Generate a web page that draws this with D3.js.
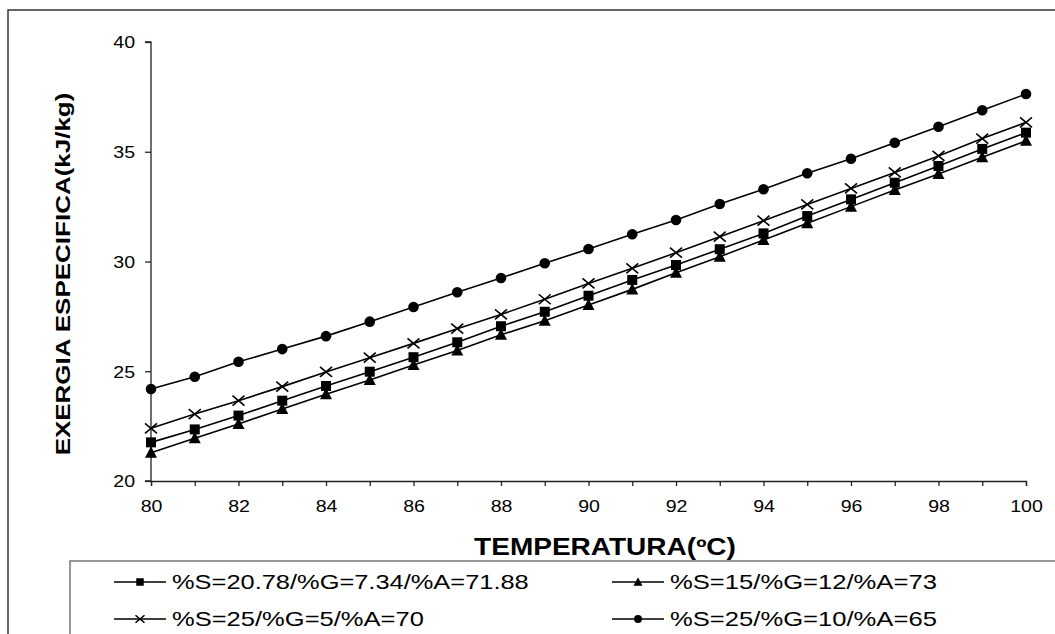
<!DOCTYPE html>
<html><head><meta charset="utf-8">
<script src="https://cdn.jsdelivr.net/npm/d3@7"></script>
<style>body{margin:0;background:#fff}svg{display:block}text{font-family:"Liberation Sans",Arial,sans-serif}</style>
</head><body>
<script>
const temps = [80,81,82,83,84,85,86,87,88,89,90,91,92,93,94,95,96,97,98,99,100];
const serSquare = [21.76,22.35,22.98,23.66,24.33,24.98,25.64,26.32,27.05,27.71,28.44,29.16,29.84,30.56,31.28,32.07,32.83,33.59,34.35,35.13,35.87];
const serTriangle = [21.29,21.95,22.6,23.28,23.95,24.6,25.28,25.94,26.66,27.3,28.02,28.73,29.49,30.22,30.98,31.74,32.5,33.26,33.99,34.75,35.5];
const serCross = [22.4,23.05,23.66,24.3,24.97,25.62,26.27,26.94,27.59,28.28,29.0,29.69,30.4,31.13,31.86,32.6,33.33,34.06,34.81,35.6,36.34];
const serCircle = [24.19,24.75,25.43,26.01,26.6,27.26,27.93,28.6,29.25,29.92,30.57,31.24,31.89,32.62,33.29,34.02,34.68,35.41,36.14,36.89,37.63];
const seriesNames = ["%S=20.78/%G=7.34/%A=71.88","%S=15/%G=12/%A=73","%S=25/%G=5/%A=70","%S=25/%G=10/%A=65"];
const xTicks = [80,82,84,86,88,90,92,94,96,98,100];
const yTicks = [20,25,30,35,40];

const W=1055,H=634;
const svg=d3.select("body").append("svg").attr("width",W).attr("height",H);
svg.append("path").attr("d","M8,640 L8,10 L1060,10").attr("fill","none").attr("stroke","#333").attr("stroke-width",1.5);

const x=d3.scaleLinear().domain([80,100]).range([151,1026]);
const y=d3.scaleLinear().domain([20,40]).range([481,42]);

const gx=svg.append("g").attr("transform","translate(0,481)")
  .call(d3.axisBottom(x).tickValues(d3.range(80,101,1)).tickSize(5).tickFormat(d=>xTicks.includes(d)?d:""));
const gy=svg.append("g").attr("transform","translate(151,0)")
  .call(d3.axisLeft(y).tickValues(yTicks).tickSize(6).tickPadding(10));
[gx,gy].forEach(g=>{
  g.attr("font-size",null).attr("font-family",null);
  g.select(".domain").attr("stroke","#222").attr("stroke-width",1.3);
  g.selectAll(".tick line").attr("stroke","#222").attr("stroke-width",1.3);
  g.selectAll(".tick text").style("font-size","17px").attr("fill","#000");
});
gx.selectAll(".tick text").attr("x",0).attr("y",0).attr("dy","0.35em").attr("transform","translate(0,25) scale(1.15,1)");
gy.selectAll(".tick text").attr("x",0).attr("dy","0.35em").attr("transform","translate(-16,0) scale(1.15,1)");
gy.select(".domain").attr("d","M-6,42H0V481H-6");

const data=[serSquare,serTriangle,serCross,serCircle];
const kinds=["square","triangle","cross","circle"];
const line=d3.line().x((d,i)=>x(temps[i])).y(d=>y(d));

function marker(g,kind,cx,cy,scale){
  scale=scale||1;
  if(kind==="square") g.append("rect").attr("x",cx-5*scale).attr("y",cy-5*scale).attr("width",10*scale).attr("height",10*scale).attr("fill","#000");
  else if(kind==="triangle") g.append("path").attr("d",`M${cx},${cy-6.5*scale}L${cx+6*scale},${cy+5*scale}L${cx-6*scale},${cy+5*scale}Z`).attr("fill","#000");
  else if(kind==="circle") g.append("circle").attr("cx",cx).attr("cy",cy).attr("r",5.3*scale).attr("fill","#000");
  else g.append("path").attr("d",`M${cx-6*scale},${cy-5*scale}L${cx+6*scale},${cy+5*scale}M${cx-6*scale},${cy+5*scale}L${cx+6*scale},${cy-5*scale}`).attr("stroke","#000").attr("stroke-width",1.6);
}

data.forEach((s,k)=>{
  svg.append("path").datum(s).attr("d",line).attr("fill","none").attr("stroke","#000").attr("stroke-width",1.6);
  const g=svg.append("g");
  s.forEach((v,i)=>marker(g,kinds[k],x(temps[i]),y(v)));
});

function fitText(parent,str,size,bold,width,anchor){
  const t=parent.append("text").style("font-size",size+"px").attr("font-weight",bold?"bold":null)
    .attr("text-anchor",anchor).text(str);
  const w=t.node().getComputedTextLength();
  t.attr("transform",`scale(${width/w},1)`);
  return t;
}
const xt=svg.append("g").attr("transform","translate(605,555)");
fitText(xt,"TEMPERATURA(ºC)",23,true,262,"middle");
const yt=svg.append("g").attr("transform","translate(70,274) rotate(-90)");
fitText(yt,"EXERGIA ESPECIFICA(kJ/kg)",21,true,363,"middle");

svg.append("path").attr("d","M70,640 L70,561 L1060,561").attr("fill","none").attr("stroke","#777").attr("stroke-width",1.5);
const legPos=[[114,582],[612,582],[114,619],[612,619]];
const legLen=[357,267,252,267];
seriesNames.forEach((n,k)=>{
  const [lx,ly]=legPos[k];
  const g=svg.append("g");
  g.append("line").attr("x1",lx).attr("x2",lx+52).attr("y1",ly).attr("y2",ly).attr("stroke","#000").attr("stroke-width",1.6);
  marker(g,kinds[k],lx+26,ly,0.75);
  const tg=g.append("g").attr("transform",`translate(${lx+58},${ly+7})`);
  fitText(tg,n,20,false,legLen[k],"start");
});
</script>
</body></html>
